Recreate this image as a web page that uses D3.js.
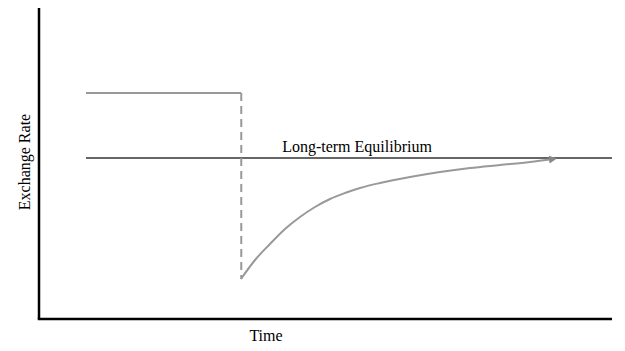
<!DOCTYPE html>
<html>
<head>
<meta charset="utf-8">
<script src="https://cdn.jsdelivr.net/npm/d3@7"></script>
<style>
  body { margin: 0; background: #fff; }
</style>
</head>
<body>
<div id="chart"></div>
<script>
// 数值均为相对单位 (0-100)
const preShockTime = [8.2, 35.3];
const preShockLevel = 72.7;
const equilibriumLevel = 51.8;
const equilibriumTime = [8.2, 100];
const shockTime = 35.3;
const shockLow = 12.9;
const pathTime = [35.25, 37.7, 40.31, 42.93, 45.55, 48.17, 50.79, 53.4, 56.02, 59.51, 64.75, 69.98, 75.22, 80.45, 85.69, 89.7];
const pathLevel = [12.86, 18.97, 24.12, 28.94, 32.8, 36.01, 38.59, 40.51, 42.12, 43.73, 45.66, 47.27, 48.55, 49.52, 50.48, 51.45];
const labels = { x: "Time", y: "Exchange Rate", eq: "Long-term Equilibrium" };

const width = 625, height = 351;
const margin = { top: 8, right: 13, bottom: 32, left: 39 };
const serif = "'Liberation Serif', 'Times New Roman', 'DejaVu Serif', serif";

const svg = d3.select("#chart").append("svg").attr("width", width).attr("height", height);

const x = d3.scaleLinear().domain([0, 100]).range([margin.left, width - margin.right]);
const y = d3.scaleLinear().domain([0, 100]).range([height - margin.bottom, margin.top]);

// 箭头
svg.append("defs").append("marker")
  .attr("id", "arrow").attr("viewBox", "0 0 10 10")
  .attr("refX", 5).attr("refY", 5)
  .attr("markerWidth", 4).attr("markerHeight", 4)
  .attr("orient", "auto")
  .append("path").attr("d", "M0,0 L10,5 L0,10 z").attr("fill", "#888");

// 长期均衡线
svg.append("line")
  .attr("x1", x(equilibriumTime[0])).attr("x2", x(equilibriumTime[1]))
  .attr("y1", y(equilibriumLevel)).attr("y2", y(equilibriumLevel))
  .attr("stroke", "#666").attr("stroke-width", 2);

// 冲击前水平
svg.append("line")
  .attr("x1", x(preShockTime[0])).attr("x2", x(preShockTime[1]))
  .attr("y1", y(preShockLevel)).attr("y2", y(preShockLevel))
  .attr("stroke", "#999").attr("stroke-width", 2);

// 冲击跳变 (虚线)
svg.append("line")
  .attr("x1", x(shockTime)).attr("x2", x(shockTime))
  .attr("y1", y(preShockLevel)).attr("y2", y(shockLow))
  .attr("stroke", "#999").attr("stroke-width", 2)
  .attr("stroke-dasharray", "8,5");

// 调整路径
const pathData = pathTime.map((t, i) => [t, pathLevel[i]]);
svg.append("path").datum(pathData)
  .attr("fill", "none").attr("stroke", "#999").attr("stroke-width", 2)
  .attr("marker-end", "url(#arrow)")
  .attr("d", d3.line().curve(d3.curveMonotoneX).x(d => x(d[0])).y(d => y(d[1])));

// 坐标轴
svg.append("line")
  .attr("x1", x(0)).attr("x2", x(0)).attr("y1", y(100)).attr("y2", y(0))
  .attr("stroke", "#000").attr("stroke-width", 2.5);
svg.append("line")
  .attr("x1", x(0) - 1.25).attr("x2", x(100)).attr("y1", y(0)).attr("y2", y(0))
  .attr("stroke", "#000").attr("stroke-width", 2.5);

// 文字
svg.append("text")
  .attr("x", x(55.5)).attr("y", y(equilibriumLevel) - 6)
  .attr("text-anchor", "middle").attr("font-family", serif).attr("font-size", 16)
  .text(labels.eq);

svg.append("text")
  .attr("x", 266).attr("y", 341)
  .attr("text-anchor", "middle").attr("font-family", serif).attr("font-size", 16)
  .text(labels.x);

svg.append("text")
  .attr("transform", "translate(30,162) rotate(-90)")
  .attr("text-anchor", "middle").attr("font-family", serif).attr("font-size", 16)
  .text(labels.y);
</script>
</body>
</html>
